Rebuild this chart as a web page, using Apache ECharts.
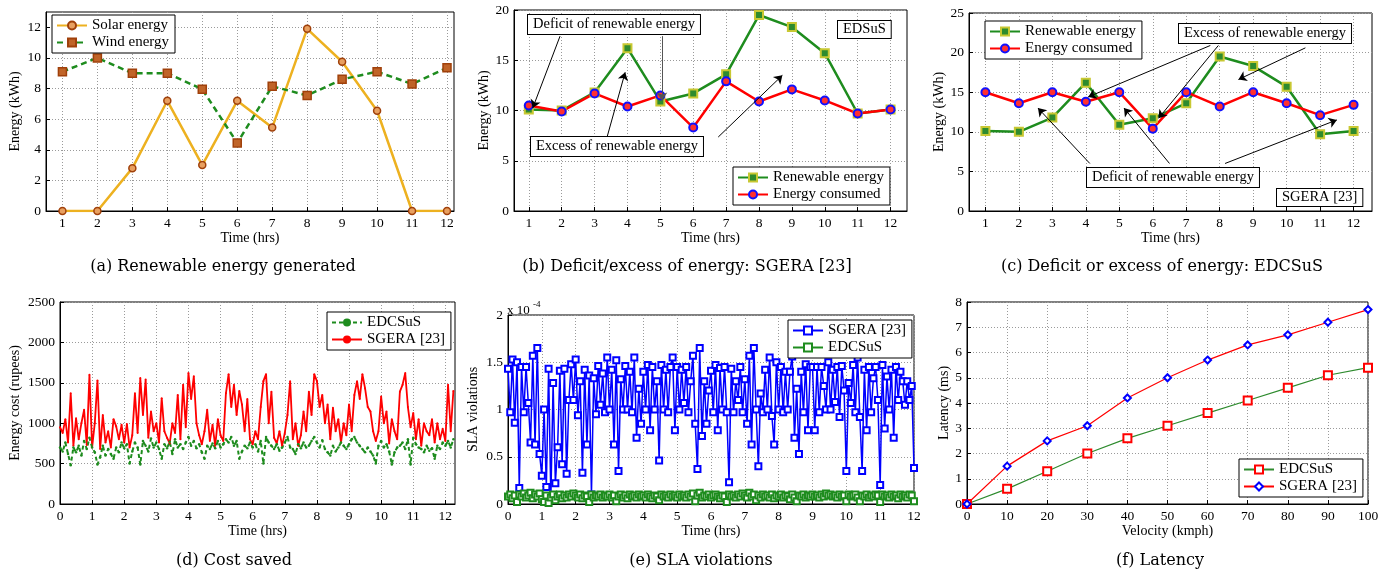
<!DOCTYPE html>
<html>
<head>
<meta charset="utf-8">
<script src="https://cdn.jsdelivr.net/npm/echarts@6/dist/echarts.min.js"></script>
<style>
html, body { margin: 0; padding: 0; background: #fff; }
#chart { width: 1386px; height: 573px; }
</style>
</head>
<body>
<div id="chart"></div>
<script>
// ---- data ----
// (a) renewable energy generated, per hour
const hours = [1, 2, 3, 4, 5, 6, 7, 8, 9, 10, 11, 12];
const solarEnergy = [0, 0, 2.8, 7.2, 3.0, 7.2, 5.45, 11.9, 9.75, 6.55, 0, 0];
const windEnergy = [9.1, 10, 9.0, 9.0, 7.95, 4.45, 8.15, 7.55, 8.6, 9.1, 8.3, 9.35];

// (b) EDSuS
const renewableB = [10.1, 10.0, 11.8, 16.2, 10.9, 11.7, 13.6, 19.5, 18.3, 15.7, 9.7, 10.1];
const consumedB = [10.5, 9.9, 11.7, 10.4, 11.5, 8.3, 12.9, 10.9, 12.1, 11.0, 9.7, 10.1];

// (c) SGERA [23]
const renewableC = [10.1, 10.0, 11.8, 16.2, 10.9, 11.7, 13.6, 19.5, 18.3, 15.7, 9.7, 10.1];
const consumedC = [15.0, 13.6, 15.0, 13.8, 15.0, 10.4, 15.0, 13.2, 15.0, 13.6, 12.1, 13.4];

// (d) energy cost (rupees), one sample every 5 minutes
const costSgera = [
  950, 880, 1050, 760, 1370, 720, 1060, 800, 1000, 1165, 730, 1600,
  700, 1000, 1530, 680, 1100, 760, 900, 700, 1050, 960, 800, 980,
  760, 990, 700, 850, 1370, 880, 1560, 1100, 1540, 820, 1145, 900,
  1000, 760, 1310, 900, 820, 750, 1000, 880, 1350, 800, 1475, 950,
  1620, 1300, 1580, 1000, 850, 740, 900, 1165, 780, 980, 720, 1050,
  850, 780, 1370, 1607, 1200, 1475, 1100, 1400, 1230, 900, 1300, 800,
  740, 900, 800, 1200, 1520, 1607, 1000, 1390, 820, 750, 900, 720,
  880, 1100, 1520, 800, 1000, 720, 850, 1145, 900, 1390, 1100, 1607,
  1520, 1200, 1350, 1000, 1230, 800, 1190, 900, 1050, 760, 1000, 850,
  1230, 900, 1350, 1520, 1300, 1607, 1430, 1200, 1145, 900, 780, 900,
  1330, 1000, 1145, 750, 1050, 900, 800, 1390, 1475, 1620, 1200, 950,
  1125, 800, 1050, 720, 1000, 900, 850, 1050, 760, 1000, 800, 930,
  780, 1475, 900, 1400
];
const costEdcsus = [
  700, 650, 760, 620, 480, 700, 640, 720, 600, 780, 680, 820,
  700, 640, 490, 580, 720, 600, 680, 620, 560, 700, 640, 760,
  690, 740, 500, 650, 760, 700, 490, 780, 720, 650, 810, 700,
  760, 680, 560, 740, 690, 770, 620, 800, 700, 740, 680, 760,
  830, 720, 780, 690, 740, 640, 560, 720, 680, 750, 690, 780,
  700, 740, 800, 760, 830, 720, 780, 560, 650, 720, 690, 760,
  700, 740, 650, 780, 500, 830, 760, 720, 680, 740, 660, 700,
  760, 830, 700, 680, 620, 740, 690, 760, 700, 720, 780, 830,
  760, 700, 790, 680, 640, 600, 720, 650, 700, 760, 720, 680,
  740, 800, 830, 760, 720, 680, 640, 700, 650, 600, 500, 720,
  780, 700, 740, 650, 490, 640, 700, 720, 760, 680, 800, 490,
  820, 740, 700, 680, 640, 720, 660, 690, 560, 720, 680, 760,
  720, 780, 700, 800
];

// (e) SLA violations (x 1e-4), one sample every 4 minutes
const slaSgera = [
  1.43, 0.97, 1.53, 0.86, 1.50, 0.17, 1.45, 0.97, 1.45, 1.07, 0.65, 1.57, 0.63, 1.65, 0.53,
  0.30, 1.00, 0.18, 1.43, 0.05, 1.28, 0.22, 0.60, 1.41, 0.42, 1.43, 0.32, 1.10, 1.48, 1.10,
  1.53, 0.94, 1.30, 0.33, 1.42, 0.63, 1.36, 0.10, 1.33, 0.95, 1.46, 1.05, 1.38, 0.97, 1.55,
  1.00, 1.42, 0.63, 1.52, 0.35, 1.32, 1.00, 1.46, 1.00, 1.40, 0.97, 1.55, 0.70, 1.22, 0.85,
  1.40, 1.00, 1.47, 0.78, 1.45, 1.00, 1.30, 0.46, 1.47, 1.00, 1.42, 0.97, 1.45, 1.55, 0.78,
  1.45, 1.00, 1.42, 1.07, 1.45, 0.97, 1.30, 1.57, 0.85, 0.37, 1.65, 0.72, 1.30, 0.85, 1.20,
  1.41, 0.97, 1.47, 0.78, 1.44, 1.00, 1.45, 0.97, 0.23, 1.43, 0.97, 1.30, 1.10, 1.45, 0.97,
  1.32, 0.85, 1.57, 0.63, 1.65, 1.00, 0.40, 1.17, 0.97, 1.42, 1.00, 1.55, 0.93, 0.63, 1.50,
  1.00, 1.45, 0.97, 1.40, 1.00, 1.40, 1.56, 0.70, 1.22, 0.53, 1.40, 0.97, 1.48, 0.78, 1.45,
  1.45, 0.78, 1.45, 0.97, 1.45, 1.25, 1.00, 1.50, 1.00, 1.42, 1.08, 1.45, 0.92, 1.46, 1.20,
  0.35, 1.28, 1.07, 1.47, 0.97, 1.55, 0.92, 0.35, 1.42, 0.78, 1.45, 0.97, 1.33, 1.45, 1.10,
  0.20, 1.47, 0.80, 1.35, 1.00, 1.42, 0.70, 1.45, 1.10, 1.40, 1.30, 1.05, 1.30, 1.10, 1.25,
  0.38
];
const slaEdcsus = [
  0.08, 0.10, 0.06, 0.09, 0.02, 0.10, 0.08, 0.11, 0.07, 0.09, 0.12, 0.06, 0.10, 0.08, 0.11,
  0.05, 0.02, 0.09, 0.01, 0.07, 0.10, 0.04, 0.08, 0.10, 0.06, 0.09, 0.07, 0.10, 0.08, 0.11,
  0.09, 0.07, 0.10, 0.06, 0.09, 0.08, 0.02, 0.10, 0.07, 0.09, 0.08, 0.10, 0.07, 0.09, 0.08,
  0.10, 0.07, 0.09, 0.03, 0.08, 0.10, 0.07, 0.09, 0.06, 0.10, 0.08, 0.09, 0.07, 0.10, 0.08,
  0.09, 0.07, 0.10, 0.08, 0.06, 0.09, 0.08, 0.04, 0.10, 0.08, 0.09, 0.07, 0.10, 0.08, 0.09,
  0.07, 0.10, 0.08, 0.09, 0.07, 0.10, 0.08, 0.11, 0.03, 0.09, 0.12, 0.07, 0.09, 0.08, 0.10,
  0.07, 0.09, 0.10, 0.08, 0.06, 0.09, 0.08, 0.02, 0.10, 0.08, 0.09, 0.07, 0.10, 0.08, 0.11,
  0.09, 0.07, 0.12, 0.08, 0.10, 0.04, 0.09, 0.07, 0.10, 0.08, 0.09, 0.07, 0.10, 0.06, 0.09,
  0.08, 0.10, 0.07, 0.09, 0.08, 0.05, 0.10, 0.07, 0.03, 0.09, 0.08, 0.10, 0.07, 0.09, 0.08,
  0.10, 0.08, 0.09, 0.07, 0.10, 0.08, 0.11, 0.09, 0.10, 0.08, 0.09, 0.07, 0.10, 0.08, 0.09,
  0.03, 0.10, 0.08, 0.09, 0.10, 0.07, 0.03, 0.09, 0.08, 0.10, 0.07, 0.09, 0.08, 0.10, 0.09,
  0.02, 0.10, 0.08, 0.09, 0.07, 0.10, 0.08, 0.09, 0.06, 0.10, 0.08, 0.09, 0.07, 0.10, 0.09,
  0.03
];

// (f) latency vs velocity
const velocity = [0, 10, 20, 30, 40, 50, 60, 70, 80, 90, 100];
const latencyEdcsus = [0, 0.6, 1.3, 2.0, 2.6, 3.1, 3.6, 4.1, 4.6, 5.1, 5.4];
const latencySgera = [0, 1.5, 2.5, 3.1, 4.2, 5.0, 5.7, 6.3, 6.7, 7.2, 7.7];

// tick labels
const hourTicks = [1, 2, 3, 4, 5, 6, 7, 8, 9, 10, 11, 12];
const timeTicks = [0, 1, 2, 3, 4, 5, 6, 7, 8, 9, 10, 11, 12];
const energyTicksA = [0, 2, 4, 6, 8, 10, 12];
const energyTicksB = [0, 5, 10, 15, 20];
const energyTicksC = [0, 5, 10, 15, 20, 25];
const costTicks = [0, 500, 1000, 1500, 2000, 2500];
const slaTicks = [0, 0.5, 1, 1.5, 2];
const velocityTicks = [0, 10, 20, 30, 40, 50, 60, 70, 80, 90, 100];
const latencyTicks = [0, 1, 2, 3, 4, 5, 6, 7, 8];

// annotation arrows [x0, y0, x1, y1] in data units
const arrowsB = [[1.95, 17.4, 1.12, 10.25], [3.38, 7.36, 3.93, 13.8], [6.76, 7.36, 8.71, 13.5]];
const arrowsBGray = [[5.05, 17.4, 5.05, 11.0]];
const arrowsC = [
  [7.72, 20.9, 4.07, 14.4], [7.96, 20.9, 6.17, 11.7], [10.56, 20.6, 8.56, 16.6],
  [4.12, 6.0, 2.57, 13.0], [6.5, 6.0, 5.14, 13.0], [8.16, 6.0, 11.5, 11.5]
];

const FONT = 'Liberation Serif';
const pairs = (xs, ys) => ys.map((v, i) => [xs[i], v]);
const costTime = costSgera.map((_, i) => i / 12);
const slaTime = slaSgera.map((_, i) => i / 15);

function axis(gi, min, max, ticks, name, nameGap) {
  return {
    gridIndex: gi, type: 'value', min: min, max: max,
    name: name, nameLocation: 'middle', nameGap: nameGap,
    nameTextStyle: { color: '#000', fontFamily: FONT, fontSize: 14 },
    axisLine: { show: true, onZero: false, lineStyle: { color: '#000', width: 1 } },
    axisTick: { show: true, inside: true, length: 4, customValues: ticks, lineStyle: { color: '#000' } },
    axisLabel: {
      color: '#000', fontFamily: FONT, fontSize: 13.5, margin: 5, customValues: ticks,
      formatter: function (v) { return String(v); }
    },
    splitLine: { show: true, lineStyle: { color: '#9a9a9a', width: 1, type: [1, 2] } }
  };
}

function legend(names, left, top) {
  return {
    orient: 'vertical', left: left, top: top, data: names,
    backgroundColor: '#fff', borderColor: '#000', borderWidth: 1, borderRadius: 0,
    padding: [3, 6, 3, 4], itemGap: 2, itemWidth: 30, itemHeight: 10,
    selectedMode: false,
    textStyle: { fontFamily: FONT, fontSize: 15, color: '#000' },
    formatter: function (n) { return n.split('|')[0]; }
  };
}

function box(text, x, y, pad) {
  return {
    type: 'text', x: x, y: y, z: 100,
    style: {
      text: text, fill: '#000', fontFamily: FONT, fontSize: 14.5,
      backgroundColor: '#fff', borderColor: '#000', borderWidth: 1, padding: pad || [2, 5]
    }
  };
}

function caption(text, x, y) {
  return {
    type: 'text', x: x, y: y,
    style: {
      text: text, fill: '#000', fontFamily: 'DejaVu Serif', fontSize: 16,
      align: 'center', verticalAlign: 'middle', textAlign: 'center', textVerticalAlign: 'middle'
    }
  };
}

function arrowLines(list, color) {
  return {
    silent: true, symbol: ['none', 'arrow'], symbolSize: 8, animation: false,
    label: { show: false },
    lineStyle: { color: color, width: 1, type: 'solid' },
    emphasis: { disabled: true },
    data: list.map(a => [{ coord: [a[0], a[1]] }, { coord: [a[2], a[3]] }])
  };
}

const gridBase = { show: true, borderColor: '#000', borderWidth: 1, backgroundColor: '#fff', containLabel: false };

const option = {
  animation: false,
  grid: [
    Object.assign({ left: 46, top: 12, width: 408, height: 199 }, gridBase),
    Object.assign({ left: 514, top: 10, width: 393, height: 201 }, gridBase),
    Object.assign({ left: 969, top: 13, width: 403, height: 198 }, gridBase),
    Object.assign({ left: 60, top: 302, width: 395, height: 202 }, gridBase),
    Object.assign({ left: 508, top: 315, width: 406, height: 189 }, gridBase),
    Object.assign({ left: 967, top: 302, width: 401, height: 202 }, gridBase)
  ],
  xAxis: [
    axis(0, 0.53, 12.2, hourTicks, 'Time (hrs)', 19),
    axis(1, 0.55, 12.5, hourTicks, 'Time (hrs)', 15),
    axis(2, 0.51, 12.55, hourTicks, 'Time (hrs)', 15),
    axis(3, 0, 12.3, timeTicks, 'Time (hrs)', 14),
    axis(4, 0, 12, timeTicks, 'Time (hrs)', 14),
    axis(5, 0, 100, velocityTicks, 'Velocity (kmph)', 14)
  ],
  yAxis: [
    axis(0, 0, 13, energyTicksA, 'Energy (kWh)', 24),
    axis(1, 0, 20, energyTicksB, 'Energy (kWh)', 22),
    axis(2, 0, 25, energyTicksC, 'Energy (kWh)', 22),
    axis(3, 0, 2500, costTicks, 'Energy cost (rupees)', 38),
    axis(4, 0, 2, slaTicks, 'SLA violations', 28),
    axis(5, 0, 8, latencyTicks, 'Latency (ms)', 15)
  ],
  legend: [
    legend(['Solar energy|a', 'Wind energy|a'], 52, 15),
    legend(['Renewable energy|b', 'Energy consumed|b'], 733, 167),
    legend(['Renewable energy|c', 'Energy consumed|c'], 985, 21),
    legend(['EDCSuS|d', 'SGERA [23]|d'], 327, 312),
    legend(['SGERA [23]|e', 'EDCSuS|e'], 788, 320),
    legend(['EDCSuS|f', 'SGERA [23]|f'], 1239, 459)
  ],
  series: [
    {
      name: 'Solar energy|a', type: 'line', xAxisIndex: 0, yAxisIndex: 0,
      data: pairs(hours, solarEnergy), symbol: 'circle', symbolSize: 7,
      lineStyle: { color: '#EDB120', width: 2.5 },
      itemStyle: { color: '#E8A060', borderColor: '#A0400A', borderWidth: 1.5 }
    },
    {
      name: 'Wind energy|a', type: 'line', xAxisIndex: 0, yAxisIndex: 0,
      data: pairs(hours, windEnergy), symbol: 'rect', symbolSize: 8,
      lineStyle: { color: '#1E8C1E', width: 2.5, type: [6, 4] },
      itemStyle: { color: '#C06428', borderColor: '#A0400A', borderWidth: 1.5 }
    },
    {
      name: 'Renewable energy|b', type: 'line', xAxisIndex: 1, yAxisIndex: 1,
      data: pairs(hours, renewableB), symbol: 'rect', symbolSize: 8,
      lineStyle: { color: '#1E8C1E', width: 2.5 },
      itemStyle: { color: '#2E8B2E', borderColor: '#C8C832', borderWidth: 2 },
      markLine: arrowLines(arrowsB, '#000')
    },
    {
      name: 'Energy consumed|b', type: 'line', xAxisIndex: 1, yAxisIndex: 1,
      data: pairs(hours, consumedB), symbol: 'circle', symbolSize: 8,
      lineStyle: { color: '#FF0000', width: 2.5 },
      itemStyle: { color: '#FF3030', borderColor: '#1010FF', borderWidth: 2 },
      markLine: arrowLines(arrowsBGray, '#555')
    },
    {
      name: 'Renewable energy|c', type: 'line', xAxisIndex: 2, yAxisIndex: 2,
      data: pairs(hours, renewableC), symbol: 'rect', symbolSize: 8,
      lineStyle: { color: '#1E8C1E', width: 2.5 },
      itemStyle: { color: '#2E8B2E', borderColor: '#C8C832', borderWidth: 2 },
      markLine: arrowLines(arrowsC, '#000')
    },
    {
      name: 'Energy consumed|c', type: 'line', xAxisIndex: 2, yAxisIndex: 2,
      data: pairs(hours, consumedC), symbol: 'circle', symbolSize: 8,
      lineStyle: { color: '#FF0000', width: 2.5 },
      itemStyle: { color: '#FF3030', borderColor: '#1010FF', borderWidth: 2 }
    },
    {
      name: 'SGERA [23]|d', type: 'line', xAxisIndex: 3, yAxisIndex: 3,
      data: pairs(costTime, costSgera), symbol: 'circle', symbolSize: 2,
      lineStyle: { color: '#FF0000', width: 1.8 },
      itemStyle: { color: '#FF0000' }
    },
    {
      name: 'EDCSuS|d', type: 'line', xAxisIndex: 3, yAxisIndex: 3,
      data: pairs(costTime, costEdcsus), symbol: 'circle', symbolSize: 2.5,
      lineStyle: { color: '#1E8C1E', width: 2, type: [4, 3] },
      itemStyle: { color: '#1E8C1E' }
    },
    {
      name: 'SGERA [23]|e', type: 'line', xAxisIndex: 4, yAxisIndex: 4,
      data: pairs(slaTime, slaSgera), symbol: 'emptyRect', symbolSize: 6,
      lineStyle: { color: '#0000FF', width: 1.5 },
      itemStyle: { color: '#0000FF', borderWidth: 1.2 }
    },
    {
      name: 'EDCSuS|e', type: 'line', xAxisIndex: 4, yAxisIndex: 4,
      data: pairs(slaTime, slaEdcsus), symbol: 'emptyRect', symbolSize: 6,
      lineStyle: { color: '#1E8C1E', width: 1.5 },
      itemStyle: { color: '#1E8C1E', borderWidth: 1.2 }
    },
    {
      name: 'EDCSuS|f', type: 'line', xAxisIndex: 5, yAxisIndex: 5,
      data: pairs(velocity, latencyEdcsus), symbol: 'emptyRect', symbolSize: 8,
      lineStyle: { color: '#2E8B2E', width: 1.2 },
      itemStyle: { color: '#FF0000', borderWidth: 1.2 }
    },
    {
      name: 'SGERA [23]|f', type: 'line', xAxisIndex: 5, yAxisIndex: 5,
      data: pairs(velocity, latencySgera), symbol: 'emptyDiamond', symbolSize: 7,
      lineStyle: { color: '#FF0000', width: 1.2 },
      itemStyle: { color: '#0000FF', borderWidth: 1.2 }
    }
  ],
  graphic: [
    box('Deficit of renewable energy', 528, 15),
    box('Excess of renewable energy', 531, 137),
    box('EDSuS', 838, 21, [1, 5]),
    box('Excess of renewable energy', 1179, 24),
    box('Deficit of renewable energy', 1087, 168),
    box('SGERA [23]', 1277, 189, [1, 5]),
    { type: 'text', x: 507, y: 304, style: { text: 'x 10', fill: '#000', fontFamily: FONT, fontSize: 13 } },
    { type: 'text', x: 533, y: 300, style: { text: '-4', fill: '#000', fontFamily: FONT, fontSize: 9 } },
    caption('(a) Renewable energy generated', 223, 267),
    caption('(b) Deficit/excess of energy: SGERA [23]', 687, 267),
    caption('(c) Deficit or excess of energy: EDCSuS', 1162, 267),
    caption('(d) Cost saved', 234, 561),
    caption('(e) SLA violations', 701, 561),
    caption('(f) Latency', 1160, 561)
  ]
};

const chart = echarts.init(document.getElementById('chart'));
chart.setOption(option);
</script>
</body>
</html>
